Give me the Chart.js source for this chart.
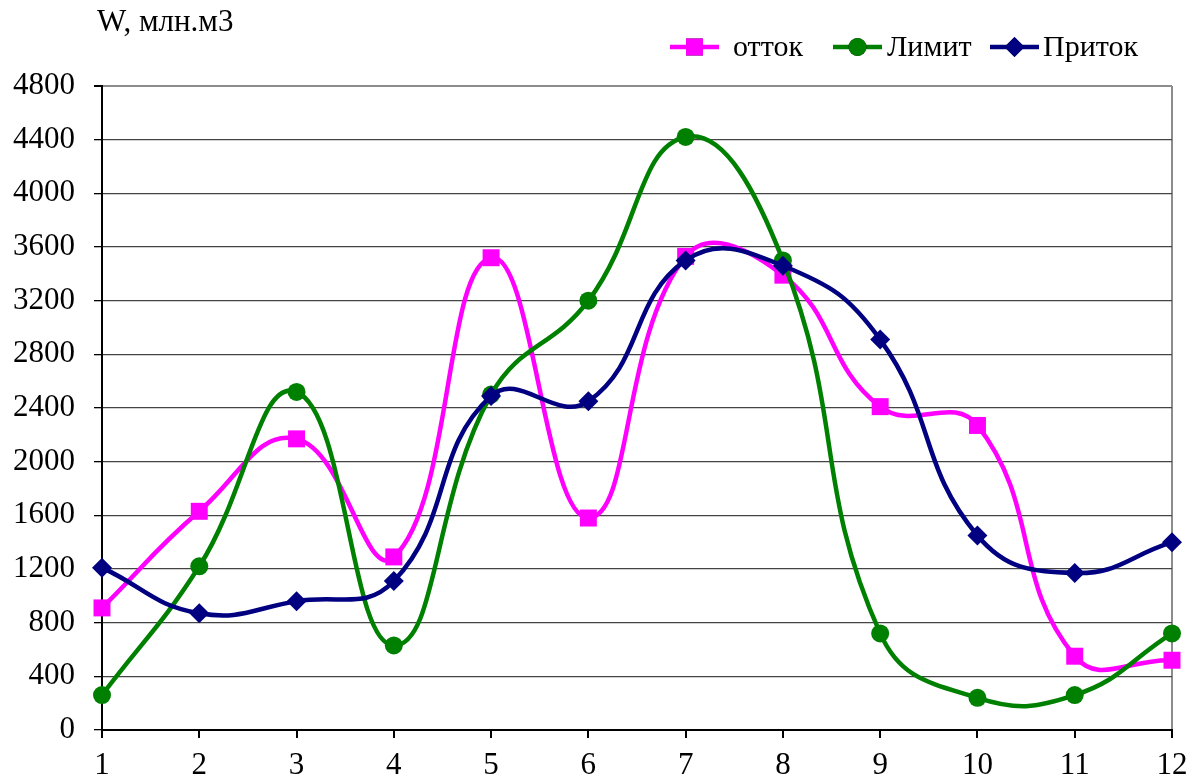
<!DOCTYPE html>
<html><head><meta charset="utf-8">
<script src="https://cdn.jsdelivr.net/npm/chart.js@4.4.1/dist/chart.umd.min.js"></script>
<style>html,body{margin:0;padding:0;background:#fff}#wrap{width:1201px;height:784px}</style>
</head><body><div id="wrap"><canvas id="c" width="1201" height="784"></canvas></div>
<script>
const categories = ['1','2','3','4','5','6','7','8','9','10','11','12'];
const ottok = [910, 1630, 2170, 1290, 3520, 1580, 3530, 3390, 2410, 2270, 550, 520];
const limit = [260, 1220, 2520, 630, 2500, 3200, 4420, 3500, 720, 240, 260, 720];
const pritok = [1210, 870, 960, 1110, 2490, 2450, 3500, 3460, 2910, 1450, 1170, 1400];
const yTicks = [0, 400, 800, 1200, 1600, 2000, 2400, 2800, 3200, 3600, 4000, 4400, 4800];
const yTitle = 'W, млн.м3';
const legendNames = ['отток', 'Лимит', 'Приток'];

const FONT = '"Liberation Serif", "Times New Roman", serif';

const overlay = {
  id: 'overlay',
  afterDraw(chart) {
    const ctx = chart.ctx;
    ctx.save();
    ctx.fillStyle = '#000';
    ctx.font = '31px ' + FONT;
    ctx.textBaseline = 'middle';
    ctx.textAlign = 'left';
    ctx.fillText(yTitle, 97, 23);
    const items = [
      {ds: 0, lx: 670, tx: 733},
      {ds: 1, lx: 833, tx: 887},
      {ds: 2, lx: 990, tx: 1043}
    ];
    const ly = 47;
    items.forEach((it, i) => {
      const d = chart.data.datasets[it.ds];
      ctx.strokeStyle = d.borderColor;
      ctx.lineWidth = 4.5;
      ctx.beginPath(); ctx.moveTo(it.lx, ly); ctx.lineTo(it.lx + 49, ly); ctx.stroke();
      Chart.helpers.drawPoint(ctx, {pointStyle: d.pointStyle, radius: d.pointRadius, rotation: 0, borderWidth: 0}, it.lx + 24.5, ly);
      ctx.fillStyle = d.backgroundColor;
      ctx.fill();
      ctx.fillStyle = '#000';
      ctx.font = '30px ' + FONT;
      ctx.textBaseline = 'middle';
      ctx.fillText(legendNames[i], it.tx, ly + 1);
    });
    ctx.restore();
  }
};

new Chart(document.getElementById('c'), {
  type: 'line',
  data: {
    labels: categories,
    datasets: [
      {label: legendNames[0], data: ottok, borderColor: '#FF00FF', backgroundColor: '#FF00FF', borderWidth: 4.5,
       pointStyle: 'rect', pointRadius: 12, pointBorderWidth: 0, tension: 0.45, order: 2},
      {label: legendNames[1], data: limit, borderColor: '#008000', backgroundColor: '#008000', borderWidth: 4.5,
       pointStyle: 'circle', pointRadius: 9, pointBorderWidth: 0, tension: 0.45, order: 1},
      {label: legendNames[2], data: pritok, borderColor: '#000080', backgroundColor: '#000080', borderWidth: 4.5,
       pointStyle: 'rectRot', pointRadius: 10, pointBorderWidth: 0, tension: 0.45, order: 0}
    ]
  },
  options: {
    responsive: false,
    animation: false,
    devicePixelRatio: 1,
    layout: {padding: {top: 86, right: 29, left: 0, bottom: 0}},
    plugins: {legend: {display: false}, tooltip: {enabled: false}, title: {display: false}},
    elements: {line: {capBezierPoints: false}},
    scales: {
      x: {
        offset: false,
        grid: {
          color: (c) => (c.index === categories.length - 1 ? '#8c8c8c' : 'rgba(0,0,0,0)'),
          lineWidth: 2,
          tickColor: '#000',
          tickLength: 8,
          drawOnChartArea: true
        },
        border: {color: '#000', width: 2},
        ticks: {color: '#000', font: {family: FONT, size: 31}, padding: 9, maxRotation: 0, autoSkip: false},
        afterFit(s) { s.height = 54; }
      },
      y: {
        min: 0, max: 4800,
        afterBuildTicks(s) { s.ticks = yTicks.map(v => ({value: v})); },
        grid: {
          color: (c) => (c.tick && c.tick.value === 4800 ? '#8c8c8c' : '#444'),
          lineWidth: (c) => (c.tick && c.tick.value === 4800 ? 2 : 1.3),
          tickColor: '#000',
          tickLength: 8
        },
        border: {color: '#000', width: 2},
        ticks: {color: '#000', font: {family: FONT, size: 31}, padding: 19, callback: (v) => String(v)},
        afterFit(s) { s.width = 102; }
      }
    }
  },
  plugins: [overlay]
});
</script></body></html>
